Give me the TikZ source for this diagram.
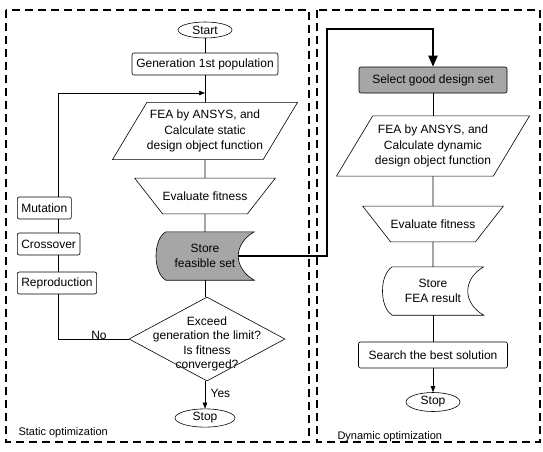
\documentclass[tikz,border=0pt]{standalone}
\usepackage{fontspec}
\setmainfont{Liberation Sans}
\usetikzlibrary{shapes.geometric,arrows.meta,positioning,backgrounds}

% data store outline: round bulge on the left, hollow on the right
\newcommand{\drawstore}[2]{%
  \begin{scope}[on background layer]
    \draw[line width=0.6pt, #2] ([xshift=10pt]#1.north west) -- (#1.north east)
      to[out=210, in=150, looseness=1.3] (#1.south east)
      -- ([xshift=10pt]#1.south west)
      to[out=150, in=210, looseness=0.8] ([xshift=10pt]#1.north west) -- cycle;
  \end{scope}
}

\begin{document}
\begin{tikzpicture}[x=1pt, y=1pt,
    every node/.style={font=\fontsize{12}{15.5}\selectfont},
    terminal/.style={ellipse, draw, line width=0.6pt, minimum width=54pt, minimum height=16pt, inner sep=1pt},
    process/.style={rectangle, draw, line width=0.6pt, rounded corners=2pt, minimum height=22pt, inner xsep=4pt},
    io/.style={trapezium, draw, line width=0.6pt, trapezium left angle=59, trapezium right angle=121,
        trapezium stretches body=true, minimum width=185pt, align=center, inner xsep=0pt, inner ysep=7.5pt},
    fitbox/.style={trapezium, draw, line width=0.6pt, shape border rotate=180, trapezium left angle=52,
        trapezium right angle=52, trapezium stretches body=true, minimum width=130pt, inner xsep=0pt, inner ysep=13.5pt},
    store/.style={minimum width=98pt, minimum height=48pt, inner sep=0pt, align=center},
    decision/.style={diamond, draw, line width=0.6pt, minimum width=156pt, minimum height=84pt, inner sep=0pt},
    frame/.style={line width=1.6pt, dash pattern=on 8pt off 5pt},
    line/.style={line width=0.6pt},
    arr/.style={line width=0.6pt, -{Triangle[length=6pt, width=4.5pt]}},
    bigarr/.style={line width=2pt, -{Triangle[length=11pt, width=9pt]}},
    shaded/.style={fill=black!35}
]
    \useasboundingbox (0,0) rectangle (543,-451);

    % Frames
    \draw[frame] (6,-10) rectangle (309,-442);
    \draw[frame] (317,-10) rectangle (540,-442);
    \node[anchor=west, font=\fontsize{11}{13}\selectfont] (statlbl) at (15,-433) {Static optimization};
    \node[anchor=west, font=\fontsize{11}{13}\selectfont] (dynlbl) at (334,-437) {Dynamic optimization};

    % Static optimization
    \node[terminal] (start) at (205,-30) {Start};
    \node[process, minimum width=146pt] (gen) at (205,-64) {Generation 1st population};
    \node[io] (fea1) at (205,-131) {FEA by ANSYS, and\\Calculate static\\design object function};
    \node[fitbox] (fit1) at (205,-196) {Evaluate fitness};
    \node[store] (st1) at (205,-256) {Store\\feasible set};
    \node[decision] (dec) at (207,-339) {};
    \node[align=center, font=\fontsize{12}{14.5}\selectfont] (dectxt) at (207,-344) {Exceed\\generation the limit?\\Is fitness\\converged?};
    \node[terminal, minimum width=60pt] (stop1) at (205,-418) {Stop};

    % GA operators
    \foreach \nm/\txt/\y in {mut/Mutation/-208, cross/Crossover/-244, rep/Reproduction/-283} {
        \node[process, anchor=west] (\nm) at (17,\y) {\txt};
    }
    \coordinate (lx) at (58,0);
    \coordinate (merge) at (205,-93);

    \draw[line] (start) -- (gen);
    \draw[line] (gen) -- (fea1);
    \draw[line] (fea1) -- (fit1);
    \draw[line] (fit1) -- (st1);
    \draw[line] (st1) -- (st1 |- dec.north);
    \draw[arr] (stop1 |- dec.south) -- (stop1) node[pos=0.45, right=2pt] (yes) {Yes};
    \draw[line] (dec.west) -- (dec.west -| lx) -- (rep.south -| lx);
    \node (no) at (99,-335) {No};
    \draw[line] (rep.north -| lx) -- (cross.south -| lx);
    \draw[line] (cross.north -| lx) -- (mut.south -| lx);
    \draw[arr] (mut.north -| lx) -- (lx |- merge) -- (merge);

    % Dynamic optimization
    \node[process, shaded, minimum width=148pt, minimum height=26pt] (sel) at (433,-80) {Select good design set};
    \node[io, minimum width=193pt, inner ysep=9pt] (fea2) at (433,-146) {FEA by ANSYS, and\\Calculate dynamic\\design object function};
    \node[fitbox] (fit2) at (433,-224) {Evaluate fitness};
    \node[store, minimum width=101pt] (st2) at (433,-291) {Store\\FEA result};
    \node[process, minimum width=149pt, minimum height=26pt] (search) at (433,-355) {Search the best solution};
    \node[terminal, minimum height=19pt] (stop2) at (433,-402) {Stop};

    \draw[line] (sel) -- (fea2);
    \draw[line] (fea2) -- (fit2);
    \draw[line] (fit2) -- (st2);
    \draw[line] (st2) -- (search);
    \draw[arr] (search) -- (stop2);

    % Feasible set handed over
    \coordinate (up) at (327,-29);
    \draw[bigarr] ([xshift=-16pt]st1.east) -- (st1.east -| up) -- (up) -- (up -| sel) -- (sel);

    \drawstore{st1}{shaded}
    \drawstore{st2}{fill=white}
\end{tikzpicture}
\end{document}
